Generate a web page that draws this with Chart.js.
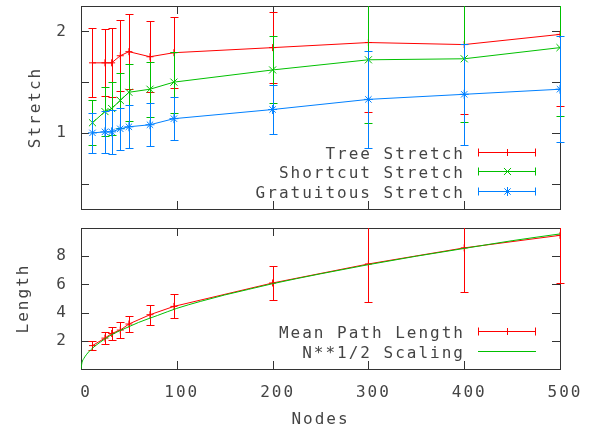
<!DOCTYPE html>
<html>
<head>
<meta charset="utf-8">
<script src="https://cdn.jsdelivr.net/npm/chart.js@4/dist/chart.umd.min.js"></script>
<style>
body { margin: 0; background: #fff; }
#wrap { position: relative; width: 595px; height: 430px; }
canvas { position: absolute; left: 0; top: 0; }
</style>
</head>
<body>
<div id="wrap">
    <canvas id="stretchChart" width="595" height="430"></canvas>
    <canvas id="lengthChart" width="595" height="430"></canvas>
</div>
<script>
// node counts used in both panels
const nodes = [12, 25, 32, 41, 50, 72, 97, 200, 300, 400, 500];

// top panel: mean stretch and error half-widths
const treeStretch = [1.69, 1.69, 1.69, 1.76, 1.80, 1.75, 1.79, 1.84, 1.89, 1.87, 1.97];
const treeErr = [0.34, 0.33, 0.34, 0.35, 0.37, 0.35, 0.35, 0.35, 0.68, 0.68, 0.71];
const shortcutStretch = [1.10, 1.21, 1.24, 1.32, 1.40, 1.43, 1.50, 1.62, 1.72, 1.73, 1.84];
const shortcutErr = [0.22, 0.24, 0.26, 0.27, 0.28, 0.27, 0.30, 0.33, 0.62, 0.62, 0.67];
const gratuitousStretch = [1.00, 1.01, 1.01, 1.04, 1.06, 1.08, 1.14, 1.23, 1.33, 1.38, 1.43];
const gratuitousErr = [0.20, 0.21, 0.22, 0.21, 0.21, 0.21, 0.21, 0.24, 0.48, 0.50, 0.52];

// bottom panel: mean path length
const pathLength = [1.66, 2.19, 2.52, 2.76, 3.19, 3.85, 4.44, 6.10, 7.45, 8.59, 9.48];
const pathErr = [0.32, 0.43, 0.48, 0.55, 0.60, 0.72, 0.85, 1.20, 2.68, 3.10, 3.40];

// N**1/2 curve
const curveNodes = [0, 1, 3, 6, 10, 15, 20, 30, 40, 50, 60, 80, 100, 125, 150, 175, 200, 250, 300, 350, 400, 450, 500];
const curveLength = [0, 0.45, 0.75, 1.05, 1.35, 1.65, 1.9, 2.35, 2.7, 3.0, 3.3, 3.8, 4.3, 4.8, 5.25, 5.65, 6.05, 6.75, 7.4, 8.0, 8.55, 9.1, 9.58];

// ticks
const nodeTicks = [0, 100, 200, 300, 400, 500];
const stretchTicks = [0.5, 1, 1.5, 2];
const stretchTickLabels = ["", "1", "", "2"];
const lengthTicks = [2, 4, 6, 8];
const lengthTickLabels = ["2", "4", "6", "8"];

const FONT = "'DejaVu Sans Mono', monospace";
const TEXT = "#444";
Chart.defaults.font.family = FONT;
Chart.defaults.font.size = 16;
Chart.defaults.color = TEXT;

function points(xs, ys) {
    return xs.map((x, i) => ({ x: x, y: ys[i] }));
}

// keep the plot box where it is, whatever the labels want
function noPad(s) {
    s.paddingTop = 0;
    s.paddingBottom = 0;
    s.paddingLeft = 0;
    s.paddingRight = 0;
}

// gnuplot style frame with inward ticks on all four sides
const framePlugin = {
    id: "frame",
    beforeDraw(chart) {
        chart.ctx.letterSpacing = "2px";
    },
    beforeDatasetsDraw(chart) {
        const { ctx, chartArea: a, scales } = chart;
        ctx.save();
        ctx.strokeStyle = "#333";
        ctx.lineWidth = 1;
        ctx.strokeRect(a.left + 0.5, a.top + 0.5, a.right - a.left, a.bottom - a.top);
        ctx.beginPath();
        scales.x.ticks.forEach(t => {
            const px = Math.round(scales.x.getPixelForValue(t.value)) + 0.5;
            ctx.moveTo(px, a.top);
            ctx.lineTo(px, a.top + 8);
            ctx.moveTo(px, a.bottom);
            ctx.lineTo(px, a.bottom - 8);
        });
        scales.y.ticks.forEach(t => {
            const py = Math.round(scales.y.getPixelForValue(t.value)) + 0.5;
            ctx.moveTo(a.left, py);
            ctx.lineTo(a.left + 8, py);
            ctx.moveTo(a.right, py);
            ctx.lineTo(a.right - 8, py);
        });
        ctx.stroke();
        ctx.restore();
    }
};

// y error bars with small caps
const errorBarPlugin = {
    id: "errorBars",
    afterDatasetDraw(chart, args) {
        const ds = chart.data.datasets[args.index];
        if (!ds.errors) return;
        const { ctx, chartArea: a, scales: { x, y } } = chart;
        ctx.save();
        ctx.beginPath();
        ctx.rect(a.left - 8, a.top, a.right - a.left + 16, a.bottom - a.top);
        ctx.clip();
        ctx.strokeStyle = ds.borderColor;
        ctx.lineWidth = 1;
        ctx.beginPath();
        ds.data.forEach((p, i) => {
            const px = Math.round(x.getPixelForValue(p.x)) + 0.5;
            const hi = Math.round(y.getPixelForValue(p.y + ds.errors[i])) + 0.5;
            const lo = Math.round(y.getPixelForValue(p.y - ds.errors[i])) + 0.5;
            ctx.moveTo(px, hi);
            ctx.lineTo(px, lo);
            ctx.moveTo(px - 4, hi);
            ctx.lineTo(px + 4, hi);
            ctx.moveTo(px - 4, lo);
            ctx.lineTo(px + 4, lo);
        });
        ctx.stroke();
        ctx.restore();
    }
};

// key drawn inside the plot, text on the left of the sample
const keyPlugin = {
    id: "gnuKey",
    afterDraw(chart) {
        const { ctx, chartArea: a } = chart;
        const sets = chart.data.datasets;
        const n = sets.length;
        ctx.save();
        ctx.letterSpacing = "2px";
        ctx.font = "16px " + FONT;
        ctx.textAlign = "right";
        ctx.textBaseline = "alphabetic";
        sets.forEach((ds, i) => {
            const yy = Math.round(a.bottom - 18 - (n - 1 - i) * 19.7) + 0.5;
            ctx.fillStyle = TEXT;
            ctx.fillText(ds.label, a.right - 95, yy + 6);
            const x0 = a.right - 82, x1 = a.right - 24;
            ctx.strokeStyle = ds.borderColor;
            ctx.lineWidth = 1;
            ctx.beginPath();
            ctx.moveTo(x0, yy);
            ctx.lineTo(x1, yy);
            if (ds.errors) {
                ctx.moveTo(x0 + 0.5, yy - 4);
                ctx.lineTo(x0 + 0.5, yy + 4);
                ctx.moveTo(x1 - 0.5, yy - 4);
                ctx.lineTo(x1 - 0.5, yy + 4);
            }
            ctx.stroke();
            if (ds.pointRadius > 0) {
                Chart.helpers.drawPoint(ctx, {
                    pointStyle: ds.pointStyle,
                    radius: ds.pointRadius,
                    rotation: 0,
                    borderWidth: 1
                }, Math.round((x0 + x1) / 2) + 0.5, yy);
            }
        });
        ctx.restore();
    }
};

function series(label, color, style, radius, data, errors, order) {
    return {
        label: label,
        data: data,
        errors: errors,
        borderColor: color,
        backgroundColor: color,
        borderWidth: 1,
        pointStyle: style,
        pointRadius: radius,
        pointHoverRadius: radius,
        pointBorderWidth: 1,
        pointBorderColor: color,
        fill: false,
        tension: 0,
        order: order
    };
}

new Chart(document.getElementById("stretchChart"), {
    type: "line",
    data: {
        datasets: [
            series("Tree Stretch", "#ff0000", "cross", 3.5, points(nodes, treeStretch), treeErr, 3),
            series("Shortcut Stretch", "#00c000", "crossRot", 5, points(nodes, shortcutStretch), shortcutErr, 2),
            series("Gratuitous Stretch", "#0080ff", "star", 4.5, points(nodes, gratuitousStretch), gratuitousErr, 1)
        ]
    },
    options: {
        responsive: false,
        animation: false,
        events: [],
        layout: { padding: { left: 0, right: 35, top: 4, bottom: 221 } },
        plugins: { legend: { display: false }, tooltip: { enabled: false } },
        scales: {
            x: {
                type: "linear",
                min: 0,
                max: 500,
                afterBuildTicks: s => { s.ticks = nodeTicks.map(v => ({ value: v })); },
                ticks: { display: false },
                grid: { display: false, drawTicks: false },
                border: { display: false },
                afterFit: s => { s.height = 0; noPad(s); }
            },
            y: {
                min: 0.25,
                max: 2.25,
                afterBuildTicks: s => { s.ticks = stretchTicks.map(v => ({ value: v })); },
                ticks: {
                    padding: 13,
                    callback: (v) => stretchTickLabels[stretchTicks.indexOf(v)]
                },
                grid: { display: false, drawTicks: false },
                border: { display: false },
                title: { display: true, text: "Stretch", padding: { top: 26, bottom: 0 } },
                afterFit: s => { s.width = 81; noPad(s); }
            }
        }
    },
    plugins: [framePlugin, errorBarPlugin, keyPlugin]
});

new Chart(document.getElementById("lengthChart"), {
    type: "line",
    data: {
        datasets: [
            series("Mean Path Length", "#ff0000", "cross", 3.5, points(nodes, pathLength), pathErr, 2),
            Object.assign(series("N**1/2 Scaling", "#00c000", "circle", 0, points(curveNodes, curveLength), null, 1),
                { cubicInterpolationMode: "monotone" })
        ]
    },
    options: {
        responsive: false,
        animation: false,
        events: [],
        layout: { padding: { left: 0, right: 35, top: 228, bottom: 0 } },
        plugins: { legend: { display: false }, tooltip: { enabled: false } },
        scales: {
            x: {
                type: "linear",
                min: 0,
                max: 500,
                afterBuildTicks: s => { s.ticks = nodeTicks.map(v => ({ value: v })); },
                ticks: { padding: 14, labelOffset: 5, maxRotation: 0 },
                grid: { display: false, drawTicks: false },
                border: { display: false },
                title: { display: true, text: "Nodes", padding: { top: 0, bottom: 1 } },
                afterFit: s => { s.height = 61; noPad(s); }
            },
            y: {
                min: 0,
                max: 10,
                afterBuildTicks: s => { s.ticks = lengthTicks.map(v => ({ value: v })); },
                ticks: {
                    padding: 13,
                    callback: (v) => lengthTickLabels[lengthTicks.indexOf(v)]
                },
                grid: { display: false, drawTicks: false },
                border: { display: false },
                title: { display: true, text: "Length", padding: { top: 14, bottom: 0 } },
                afterFit: s => { s.width = 81; noPad(s); }
            }
        }
    },
    plugins: [framePlugin, errorBarPlugin, keyPlugin]
});
</script>
</body>
</html>
